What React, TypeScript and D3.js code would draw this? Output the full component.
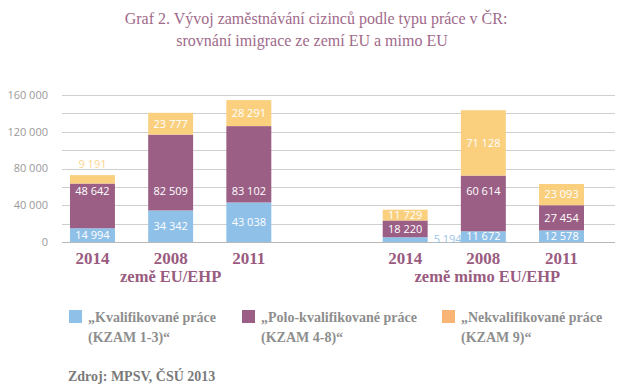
import React from "react";
import * as d3 from "d3";

// categories
const years = ["2014", "2008", "2011"];
const groups = ["země EU/EHP", "země mimo EU/EHP"];

// values per bar: EU 2014, 2008, 2011, then non-EU 2014, 2008, 2011
const kvalifikovane = [14994, 34342, 43038, 5194, 11672, 12578];
const poloKvalifikovane = [48642, 82509, 83102, 18220, 60614, 27454];
const nekvalifikovane = [9191, 23777, 28291, 11729, 71128, 23093];

const yTicks = [0, 40000, 80000, 120000, 160000];
const gridTicks = [0, 20000, 40000, 60000, 80000, 100000, 120000, 140000, 160000];

const seriesNames = [
  ["„Kvalifikované práce", "(KZAM 1-3)“"],
  ["„Polo-kvalifikované práce", "(KZAM 4-8)“"],
  ["„Nekvalifikované práce", "(KZAM 9)“"],
];

const barColors = ["#8fc0e8", "#9b5f86", "#fad07f"];
const legendColors = ["#8fc0e8", "#9b5f86", "#f9b575"];
const outsideColors = ["#9cc6ea", "#9b5f86", "#fad690"];

const width = 637;
const height = 392;
const serif = "'Liberation Serif', 'DejaVu Serif', serif";
const sans = "'Open Sans', 'Noto Sans', sans-serif";

const fmt = (v: number) => d3.format(",")(v).replace(/,/g, " ");

export default function App() {
  // one empty slot between the two groups
  const slots = [
    ...years.map((y) => "eu-" + y),
    "gap",
    ...years.map((y) => "mimo-" + y),
  ];
  const barKeys = slots.filter((s) => s !== "gap");

  const x = d3
    .scaleBand()
    .domain(slots)
    .range([70, 584])
    .paddingInner(0.425)
    .paddingOuter(0);

  const y = d3.scaleLinear().domain([0, 160000]).range([242, 95]);

  const rows = barKeys.map((key, i) => ({
    key,
    k: kvalifikovane[i],
    p: poloKvalifikovane[i],
    n: nekvalifikovane[i],
  }));

  const stacked = d3.stack<any>().keys(["k", "p", "n"])(rows);

  const bw = x.bandwidth();

  return (
    <svg
      width={width}
      height={height}
      style={{ position: "absolute", left: 0, top: 0, background: "#fff" }}
    >
      {/* title */}
      <text
        x={316}
        y={24}
        textAnchor="middle"
        fontFamily={serif}
        fontSize={16}
        fill="#a06a8a"
      >
        Graf 2. Vývoj zaměstnávání cizinců podle typu práce v ČR:
      </text>
      <text
        x={312}
        y={46}
        textAnchor="middle"
        fontFamily={serif}
        fontSize={16}
        fill="#a06a8a"
      >
        srovnání imigrace ze zemí EU a mimo EU
      </text>

      {/* grid */}
      {gridTicks.map((t) => (
        <line
          key={t}
          x1={62}
          x2={615}
          y1={Math.round(y(t)) + 0.5}
          y2={Math.round(y(t)) + 0.5}
          stroke={t === 0 ? "#b8b8b8" : "#cfcfcf"}
          strokeWidth={1}
        />
      ))}
      {yTicks.map((t) => (
        <text
          key={t}
          x={48}
          y={y(t)}
          dy="0.35em"
          textAnchor="end"
          fontFamily={sans}
          fontSize={11}
          fill="#9a9a9a"
        >
          {fmt(t)}
        </text>
      ))}

      {/* bars */}
      {stacked.map((layer, si) =>
        layer.map((d, i) => {
          const key = barKeys[i];
          const x0 = x(key) as number;
          const top = y(d[1]);
          const bottom = y(d[0]);
          const h = bottom - top;
          const value = d[1] - d[0];
          let lx = x0 + bw / 2;
          let ly = (top + bottom) / 2;
          let anchor = "middle";
          let color = "#fff";
          if (h < 10) {
            color = outsideColors[si];
            if (si === 0) {
              lx = x0 + bw + 6;
              anchor = "start";
            } else {
              ly = top - 11;
            }
          } else if (si === 1 && h > 40) {
            ly = y(55000);
          }
          return (
            <g key={si + "-" + key}>
              <rect
                x={x0}
                y={top}
                width={bw}
                height={h}
                fill={barColors[si]}
              />
              <text
                x={lx}
                y={ly}
                dy="0.35em"
                textAnchor={anchor}
                fontFamily={sans}
                fontSize={11}
                fill={color}
              >
                {fmt(value)}
              </text>
            </g>
          );
        })
      )}

      {/* category labels */}
      {barKeys.map((key, i) => (
        <text
          key={key}
          x={(x(key) as number) + bw / 2}
          y={264}
          textAnchor="middle"
          fontFamily={serif}
          fontWeight="bold"
          fontSize={17}
          fill="#9a5b80"
        >
          {years[i % 3]}
        </text>
      ))}
      {groups.map((g, gi) => (
        <text
          key={g}
          x={(x(barKeys[gi * 3 + 1]) as number) + bw / 2 + gi * 4}
          y={282}
          textAnchor="middle"
          fontFamily={serif}
          fontWeight="bold"
          fontSize={16.5}
          fill="#9a5b80"
        >
          {g}
        </text>
      ))}

      {/* legend */}
      {seriesNames.map((lines, i) => {
        const lx = [69, 242, 442][i];
        return (
          <g key={i}>
            <rect x={lx} y={310} width={13} height={13} fill={legendColors[i]} />
            {lines.map((t, j) => (
              <text
                key={j}
                x={lx + 19}
                y={322 + j * 20}
                fontFamily={serif}
                fontWeight="bold"
                fontSize={14}
                fill="#8e8e8e"
              >
                {t}
              </text>
            ))}
          </g>
        );
      })}

      {/* source */}
      <text
        x={68}
        y={381}
        fontFamily={serif}
        fontWeight="bold"
        fontSize={14}
        fill="#7a7a7a"
      >
        Zdroj: MPSV, ČSÚ 2013
      </text>
    </svg>
  );
}
